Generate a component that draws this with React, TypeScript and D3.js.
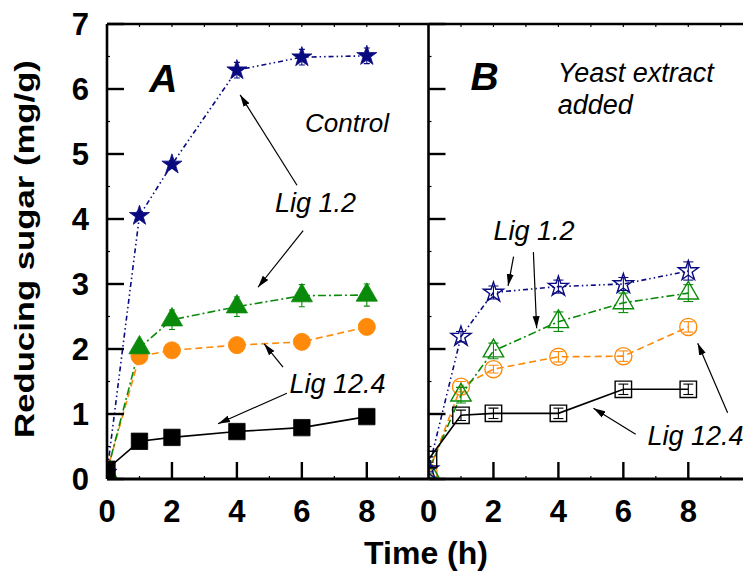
import React, { useEffect, useRef } from 'react';
import * as d3 from 'd3';

// sampling times (h)
const times = [0, 1, 2, 4, 6, 8];

// Panel A: control
const starA = [0.1, 4.05, 4.84, 6.29, 6.49, 6.51];
const starAErr = [0.04, 0.06, 0.06, 0.12, 0.12, 0.12];
const triA = [0.1, 2.02, 2.45, 2.65, 2.82, 2.83];
const triAErr = [0.04, 0.08, 0.15, 0.15, 0.17, 0.17];
const circA = [0.12, 1.89, 1.98, 2.06, 2.11, 2.34];
const circAErr = [0.04, 0.05, 0.05, 0.05, 0.05, 0.05];
const sqA = [0.15, 0.58, 0.64, 0.73, 0.79, 0.96];
const sqAErr = [0.04, 0.04, 0.04, 0.04, 0.04, 0.04];

// Panel B: yeast extract added
const starB = [0.15, 2.19, 2.87, 2.96, 3.0, 3.2];
const starBErr = [0.04, 0.08, 0.1, 0.1, 0.1, 0.14];
const triB = [0.12, 1.29, 1.97, 2.42, 2.71, 2.86];
const triBErr = [0.04, 0.12, 0.12, 0.15, 0.15, 0.13];
const circB = [0.1, 1.42, 1.69, 1.88, 1.89, 2.34];
const circBErr = [0.04, 0.08, 0.06, 0.08, 0.08, 0.08];
const sqB = [0.3, 0.98, 1.01, 1.01, 1.38, 1.38];
const sqBErr = [0.04, 0.08, 0.08, 0.08, 0.08, 0.08];

const yTicks = [0, 1, 2, 3, 4, 5, 6, 7];
const xTicks = [0, 2, 4, 6, 8];

const NAVY = '#0a0a80';
const GREEN = '#0a8a0a';
const ORANGE = '#ff8a0a';

type Series = { y: number[]; err: number[]; color: string; dash: string; symbol: d3.SymbolType; size: number };

const App: React.FC = () => {
  const svgRef = useRef<SVGSVGElement>(null);

  useEffect(() => {
    if (!svgRef.current) return;
    const svg = d3.select(svgRef.current);
    svg.selectAll('*').remove();

    const y = d3.scaleLinear().domain([0, 7]).range([479, 24]);
    const xA = d3.scaleLinear().domain([0, 9.9]).range([107, 428.5]);
    const xB = d3.scaleLinear().domain([0, 9.9]).range([428.5, 750]);

    const defs = svg.append('defs');
    defs.append('marker')
      .attr('id', 'arrow')
      .attr('viewBox', '0 0 12 8')
      .attr('refX', 12).attr('refY', 4)
      .attr('markerWidth', 12).attr('markerHeight', 8)
      .attr('markerUnits', 'userSpaceOnUse')
      .attr('orient', 'auto')
      .append('path').attr('d', 'M0,0.5 L12,4 L0,7.5 Z').attr('fill', '#000');

    const font = '"Liberation Sans", Arial, sans-serif';

    const drawPanel = (
      id: string,
      x: d3.ScaleLinear<number, number>,
      series: Series[],
      filled: boolean
    ) => {
      const [x0, x1] = x.range();
      defs.append('clipPath').attr('id', id)
        .append('rect').attr('x', x0).attr('y', y(7)).attr('width', x1 - x0).attr('height', y(0) - y(7));
      const g = svg.append('g').attr('clip-path', `url(#${id})`);

      const line = d3.line<number>().x((_, i) => x(times[i])).y(v => y(v));

      series.forEach(s => {
        g.append('path')
          .attr('d', line(s.y))
          .attr('fill', 'none')
          .attr('stroke', s.color)
          .attr('stroke-width', 1.6)
          .attr('stroke-dasharray', s.dash);
      });

      const cap = filled ? 3 : 5;
      series.forEach(s => {
        const pts = g.append('g');
        s.y.forEach((v, i) => {
          const cx = x(times[i]);
          const e = s.err[i];
          pts.append('line')
            .attr('x1', cx).attr('x2', cx)
            .attr('y1', y(v - e)).attr('y2', y(v + e))
            .attr('stroke', s.color).attr('stroke-width', 1.1);
          [v - e, v + e].forEach(c => {
            pts.append('line')
              .attr('x1', cx - cap).attr('x2', cx + cap)
              .attr('y1', y(c)).attr('y2', y(c))
              .attr('stroke', s.color).attr('stroke-width', 1.1);
          });
          pts.append('path')
            .attr('transform', `translate(${cx},${y(v)})`)
            .attr('d', d3.symbol().type(s.symbol).size(s.size)()!)
            .attr('fill', filled ? s.color : 'none')
            .attr('stroke', s.color)
            .attr('stroke-width', filled ? 0.8 : 1.4);
        });
      });

      // frame
      const axis = svg.append('g').attr('stroke', '#000').attr('fill', 'none');
      axis.append('line').attr('x1', x0).attr('x2', x1).attr('y1', y(7)).attr('y2', y(7)).attr('stroke-width', 2.6);
      axis.append('line').attr('x1', x0).attr('x2', x1).attr('y1', y(0)).attr('y2', y(0)).attr('stroke-width', 2.8);
      axis.append('line').attr('x1', x0).attr('x2', x0).attr('y1', y(7)).attr('y2', y(0)).attr('stroke-width', 2.6);

      // y ticks on the left edge, pointing inward
      d3.range(0, 7.01, 0.5).forEach(t => {
        const major = t % 1 === 0;
        axis.append('line')
          .attr('x1', x0).attr('x2', x0 + (major ? 17 : 3))
          .attr('y1', y(t)).attr('y2', y(t))
          .attr('stroke-width', major ? 2.4 : 1.2);
      });
      // x ticks
      d3.range(1, 10, 1).forEach(t => {
        const major = t % 2 === 0;
        axis.append('line')
          .attr('x1', x(t)).attr('x2', x(t))
          .attr('y1', y(0)).attr('y2', y(0) - (major ? 17 : 3))
          .attr('stroke-width', major ? 2.4 : 1.2);
        axis.append('line')
          .attr('x1', x(t)).attr('x2', x(t))
          .attr('y1', y(7)).attr('y2', y(7) + 3)
          .attr('stroke-width', 1.2);
      });

      svg.append('g').selectAll('text').data(xTicks).enter().append('text')
        .attr('x', d => x(d)).attr('y', 522)
        .attr('text-anchor', 'middle')
        .attr('font-family', font).attr('font-weight', 'bold').attr('font-size', 31)
        .text(d => d);
    };

    drawPanel('clipA', xA, [
      { y: circA, err: circAErr, color: ORANGE, dash: '7 4', symbol: d3.symbolCircle, size: 230 },
      { y: triA, err: triAErr, color: GREEN, dash: '8 3 2 3', symbol: d3.symbolTriangle, size: 195 },
      { y: starA, err: starAErr, color: NAVY, dash: '5 3 1.5 3 1.5 3', symbol: d3.symbolStar, size: 125 },
      { y: sqA, err: sqAErr, color: '#000', dash: 'none', symbol: d3.symbolSquare, size: 270 },
    ], true);

    drawPanel('clipB', xB, [
      { y: circB, err: circBErr, color: ORANGE, dash: '7 4', symbol: d3.symbolCircle, size: 230 },
      { y: triB, err: triBErr, color: GREEN, dash: '8 3 2 3', symbol: d3.symbolTriangle, size: 180 },
      { y: starB, err: starBErr, color: NAVY, dash: '5 3 1.5 3 1.5 3', symbol: d3.symbolStar, size: 125 },
      { y: sqB, err: sqBErr, color: '#000', dash: 'none', symbol: d3.symbolSquare, size: 270 },
    ], false);

    // y tick labels
    svg.append('g').selectAll('text').data(yTicks).enter().append('text')
      .attr('x', 89).attr('y', d => y(d)).attr('dy', '0.36em')
      .attr('text-anchor', 'end')
      .attr('font-family', font).attr('font-weight', 'bold').attr('font-size', 31)
      .text(d => d);

    // axis titles
    svg.append('text')
      .attr('transform', `translate(34,249) rotate(-90) scale(1.24,1)`)
      .attr('text-anchor', 'middle')
      .attr('font-family', font).attr('font-weight', 'bold').attr('font-size', 28)
      .text('Reducing sugar (mg/g)');
    svg.append('text')
      .attr('x', 426).attr('y', 564)
      .attr('text-anchor', 'middle')
      .attr('font-family', font).attr('font-weight', 'bold').attr('font-size', 32)
      .text('Time (h)');

    // annotations, in data units of each panel
    const label = (x: d3.ScaleLinear<number, number>, tx: number, ty: number, text: string, size = 26, bold = false) => {
      svg.append('text')
        .attr('x', x(tx)).attr('y', y(ty))
        .attr('font-family', font).attr('font-style', 'italic')
        .attr('font-weight', bold ? 'bold' : 'normal').attr('font-size', size)
        .text(text);
    };
    const arrow = (x: d3.ScaleLinear<number, number>, fx: number, fy: number, tx: number, ty: number) => {
      svg.append('line')
        .attr('x1', x(fx)).attr('y1', y(fy)).attr('x2', x(tx)).attr('y2', y(ty))
        .attr('stroke', '#000').attr('stroke-width', 1.2)
        .attr('marker-end', 'url(#arrow)');
    };

    label(xA, 1.3, 5.95, 'A', 39, true);
    label(xA, 6.1, 5.34, 'Control', 26);
    label(xA, 5.17, 4.11, 'Lig 1.2', 27);
    label(xA, 5.62, 1.32, 'Lig 12.4', 27);
    arrow(xA, 5.85, 4.52, 4.1, 5.91);
    arrow(xA, 6.04, 3.82, 4.65, 2.95);
    arrow(xA, 5.42, 1.72, 4.84, 2.08);
    arrow(xA, 5.54, 1.32, 3.42, 0.85);

    label(xB, 1.29, 5.98, 'B', 39, true);
    label(xB, 3.98, 6.11, 'Yeast extract', 27);
    label(xB, 3.98, 5.62, 'added', 27);
    label(xB, 2.0, 3.68, 'Lig 1.2', 27);
    label(xB, 6.74, 0.52, 'Lig 12.4', 27);
    arrow(xB, 2.62, 3.42, 2.45, 2.97);
    arrow(xB, 3.23, 3.49, 3.33, 2.32);
    arrow(xB, 6.38, 0.69, 5.08, 1.09);
    arrow(xB, 9.21, 1.02, 8.29, 2.09);
  }, []);

  return (
    <svg
      ref={svgRef}
      width={743}
      height={571}
      style={{ position: 'absolute', left: 0, top: 0, background: '#fff', display: 'block' }}
    />
  );
};

export default App;
